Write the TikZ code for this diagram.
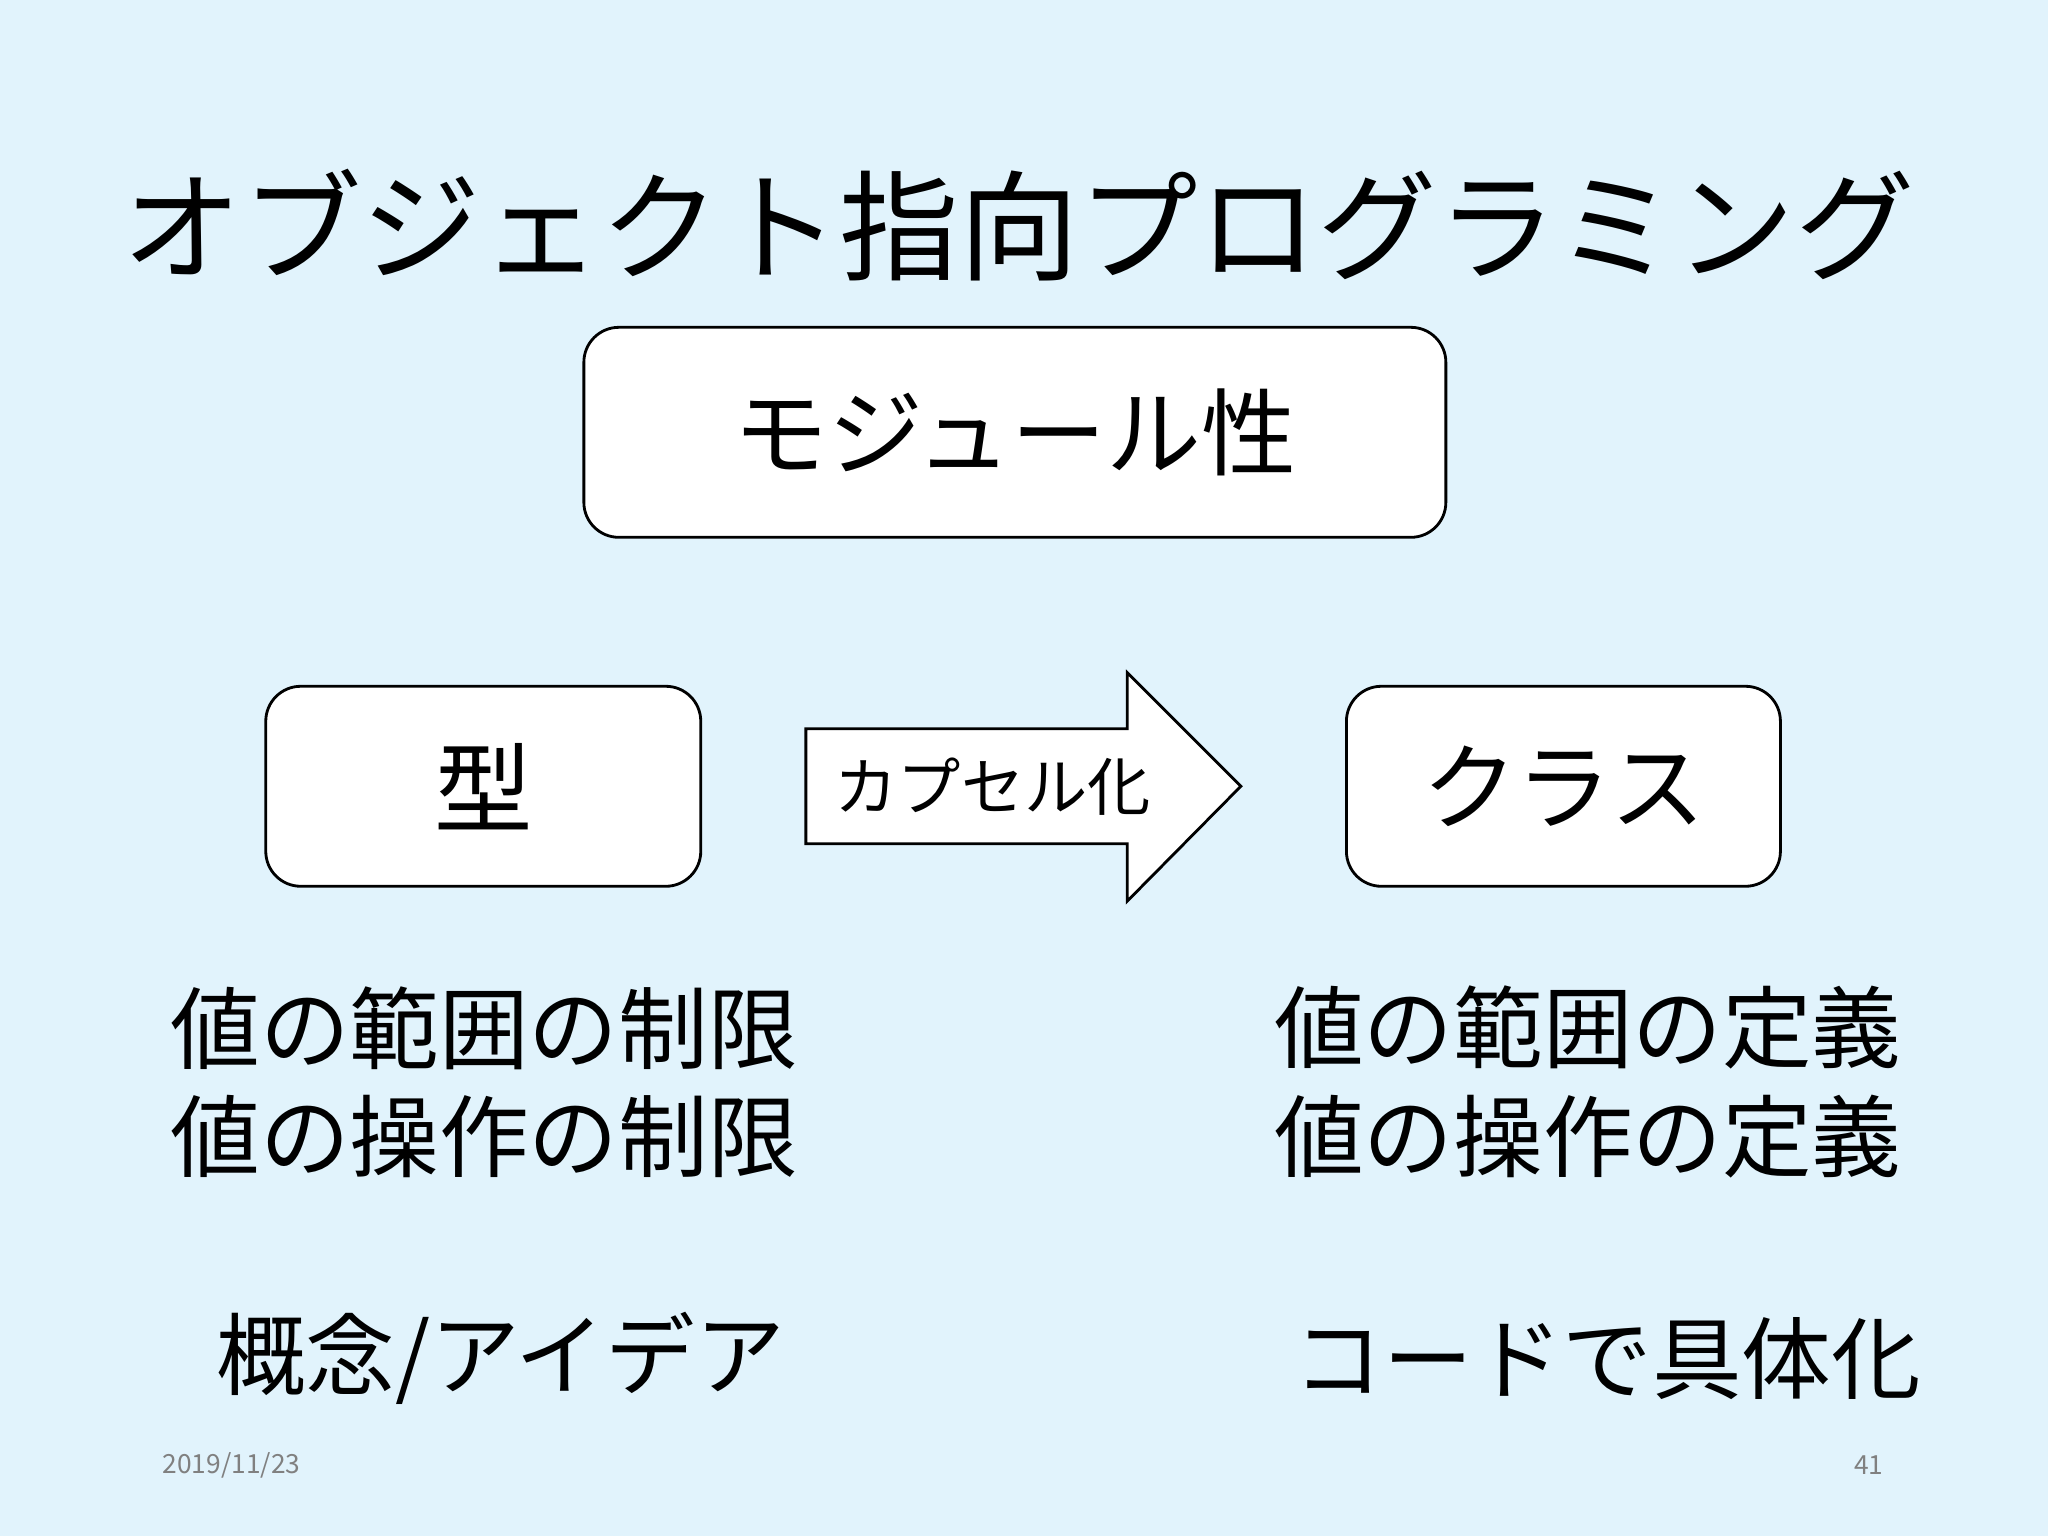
\documentclass[tikz,border=0pt]{standalone}
\usepackage{fontspec}
\setmainfont{Noto Sans CJK JP}
\usetikzlibrary{positioning}
\definecolor{slidebg}{HTML}{E1F3FC}

\tikzstyle{block} = [rectangle, draw, rounded corners=0.35cm, fill=white, line width=0.8pt]
\tikzstyle{label} = [anchor=west, inner sep=0pt]

\begin{document}
\begin{tikzpicture}[x=0.01306cm, y=-0.01306cm]
    % Background
    \fill[slidebg] (0,0) rectangle (1568,1176);

    % Title
    \node(title) at (780,172) {\fontsize{34}{40}\selectfont オブジェクト指向プログラミング};

    % Boxes
    \node(module) [block, minimum width=8.62cm, minimum height=2.10cm] at (777,331) {\fontsize{27}{32}\selectfont モジュール性};
    \node(type) [block, minimum width=4.35cm, minimum height=2.00cm] at (370,602) {\fontsize{28}{32}\selectfont 型};
    \node(class) [block, minimum width=4.34cm, minimum height=2.00cm] at (1197,602) {\fontsize{27}{32}\selectfont クラス};

    % Arrow
    \draw[fill=white, line width=0.8pt] (617,558) -- (863,558) -- (863,515) -- (950,602) -- (863,690) -- (863,646) -- (617,646) -- cycle;
    \node(encap) at (760,602) {\fontsize{18}{22}\selectfont カプセル化};

    % Descriptions
    \node(typeA) [label] at (130,787) {\fontsize{25.5}{30}\selectfont 値の範囲の制限};
    \node(typeB) [label] at (130,870) {\fontsize{25.5}{30}\selectfont 値の操作の制限};
    \node(classA) [label] at (975,787) {\fontsize{25.5}{30}\selectfont 値の範囲の定義};
    \node(classB) [label] at (975,870) {\fontsize{25.5}{30}\selectfont 値の操作の定義};
    \node(idea) [label] at (165,1040) {\fontsize{25.5}{30}\selectfont 概念/アイデア};
    \node(code) [label] at (990,1040) {\fontsize{25.5}{30}\selectfont コードで具体化};

    % Footer
    \node(date) [label, text=gray] at (124,1122) {\fontsize{7.5}{9}\selectfont 2019/11/23};
    \node(page) [label, text=gray] at (1419,1122) {\fontsize{7.5}{9}\selectfont 41};
\end{tikzpicture}
\end{document}
